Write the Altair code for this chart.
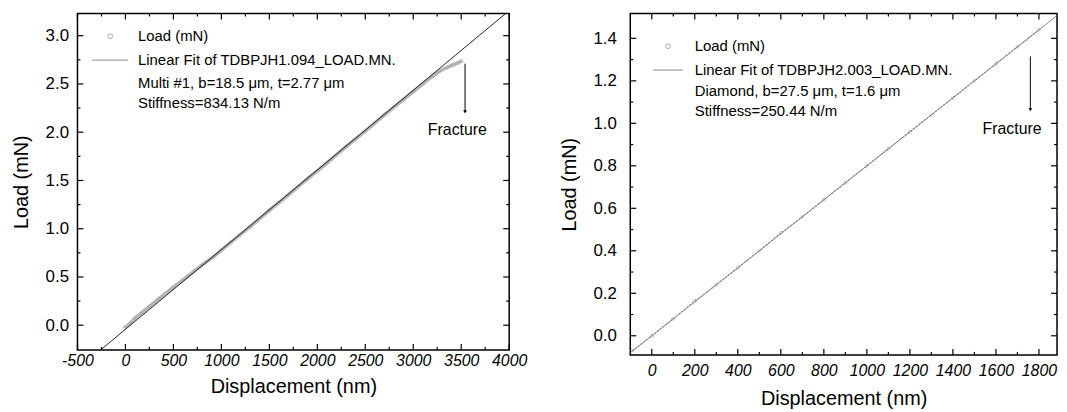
import altair as alt
import pandas as pd

# ---------------- data ----------------
# Left panel (Multi #1)
left_disp = [-10, 50, 100, 165, 250, 350, 500, 650, 800, 920, 1100, 1300, 1500, 1700,
             1900, 2100, 2300, 2500, 2700, 2900, 3000, 3100, 3200, 3270, 3350, 3420,
             3470, 3506]
left_load = [-0.03, 0.02, 0.075, 0.125, 0.195, 0.275, 0.395, 0.51, 0.625, 0.71, 0.86,
             1.02, 1.19, 1.35, 1.52, 1.68, 1.85, 2.01, 2.18, 2.34, 2.42, 2.50, 2.58,
             2.63, 2.67, 2.70, 2.72, 2.74]
left_fit_disp = [-300, 4000]
left_fit_load = [-0.290, 3.260]

# Right panel (Diamond)
right_disp = [-90, 0, 100, 200, 300, 400, 500, 600, 700, 800, 900, 1000, 1100, 1200,
              1300, 1400, 1500, 1600, 1700, 1800]
right_load = [-0.07, 0.00, 0.08, 0.165, 0.24, 0.32, 0.40, 0.485, 0.56, 0.64, 0.72,
              0.80, 0.88, 0.96, 1.04, 1.12, 1.20, 1.28, 1.36, 1.44]
right_fit_disp = [-120, 1900]
right_fit_load = [-0.096, 1.52]

# tick values
left_x_major = [-500, 0, 500, 1000, 1500, 2000, 2500, 3000, 3500, 4000]
left_x_minor = [-250, 250, 750, 1250, 1750, 2250, 2750, 3250, 3750]
left_y_major = [0.0, 0.5, 1.0, 1.5, 2.0, 2.5, 3.0]
left_y_minor = [0.25, 0.75, 1.25, 1.75, 2.25, 2.75]
right_x_major = [0, 200, 400, 600, 800, 1000, 1200, 1400, 1600, 1800]
right_x_minor = [100, 300, 500, 700, 900, 1100, 1300, 1500, 1700]
right_y_major = [0.0, 0.2, 0.4, 0.6, 0.8, 1.0, 1.2, 1.4]
right_y_minor = [0.1, 0.3, 0.5, 0.7, 0.9, 1.1, 1.3]

left_legend = ["Load (mN)", "Linear Fit of TDBPJH1.094_LOAD.MN.",
               "Multi #1, b=18.5 \u03bcm, t=2.77 \u03bcm", "Stiffness=834.13 N/m"]
right_legend = ["Load (mN)", "Linear Fit of TDBPJH2.003_LOAD.MN.",
                "Diamond, b=27.5 \u03bcm,  t=1.6 \u03bcm", "Stiffness=250.44 N/m"]

left_fracture = {"x": 3540, "y_top": 2.71, "y_bot": 2.21, "tx": 3460, "ty": 2.02}
right_fracture = {"x": 1760, "y_top": 1.315, "y_bot": 1.065, "tx": 1675, "ty": 0.975}

FONT = "Liberation Sans"
NARROW = "Liberation Sans Narrow, Liberation Sans"
HYPHEN_LABEL = "datum.value < 0 ? '-' + format(-datum.value, 'd') : format(datum.value, 'd')"


def one():
    return alt.Data(values=[{}])


def panel(disp, load, fit_d, fit_l, xdom, ydom, xmaj, xmin, ymaj, ymin, W, H,
          legend, leg_pos, frac, data_style, fit_style, xlab_pad, xtitle_pad,
          ylab_pad, ytitle_pad):
    xs = alt.Scale(domain=xdom, nice=False, zero=False)
    ys = alt.Scale(domain=ydom, nice=False, zero=False)
    xaxis = alt.Axis(values=xmaj, labelExpr=HYPHEN_LABEL, labelFont=NARROW,
                     labelFontSize=16, labelFontStyle="italic", labelPadding=xlab_pad,
                     titlePadding=xtitle_pad, labelFlush=False, labelOverlap=False)
    yaxis = alt.Axis(values=ymaj, format=".1f", labelFont=NARROW, labelFontSize=17,
                     labelPadding=ylab_pad, titlePadding=ytitle_pad, labelFlush=False,
                     labelOverlap=False)

    def X(f):
        return alt.X(f, scale=xs, axis=xaxis, title="Displacement (nm)")

    def Y(f):
        return alt.Y(f, scale=ys, axis=yaxis, title="Load (mN)")

    df = pd.DataFrame({"d": disp, "l": load})
    fdf = pd.DataFrame({"d": fit_d, "l": fit_l})

    layers = []
    layers.append(alt.Chart(df).mark_line(clip=True, **data_style).encode(
        x=X("d:Q"), y=Y("l:Q")))
    layers.append(alt.Chart(df).mark_point(shape="circle", filled=False, size=10,
                                           color="#a8a8a8", strokeWidth=0.8, clip=True).encode(
        x=X("d:Q"), y=Y("l:Q")))
    layers.append(alt.Chart(fdf).mark_line(clip=True, **fit_style).encode(
        x=X("d:Q"), y=Y("l:Q")))

    # ticks (inward, on all four sides)
    for vals, ln in ((xmaj, 6), (xmin, 3)):
        tdf = pd.DataFrame({"v": vals})
        for y0, y1 in ((H, H - ln), (0, ln)):
            layers.append(alt.Chart(tdf).mark_rule(color="black", strokeWidth=1.2).encode(
                x=X("v:Q"), y=alt.value(y0), y2=alt.value(y1)))
    for vals, ln in ((ymaj, 6), (ymin, 3)):
        tdf = pd.DataFrame({"v": vals})
        for x0, x1 in ((0, ln), (W, W - ln)):
            layers.append(alt.Chart(tdf).mark_rule(color="black", strokeWidth=1.2).encode(
                y=Y("v:Q"), x=alt.value(x0), x2=alt.value(x1)))

    # legend
    (cx, cy), (lx0, lx1, ly), tx, tys = leg_pos
    layers.append(alt.Chart(one()).mark_point(shape="circle", filled=False, size=22,
                                              color="#777", strokeWidth=0.9).encode(
        x=alt.value(cx), y=alt.value(cy)))
    layers.append(alt.Chart(one()).mark_rule(color="#555", strokeWidth=0.7).encode(
        x=alt.value(lx0), x2=alt.value(lx1), y=alt.value(ly)))
    for txt, ty in zip(legend, tys):
        layers.append(alt.Chart(one()).mark_text(align="left", baseline="middle",
                                                 font=FONT, fontSize=15, color="black").encode(
            x=alt.value(tx), y=alt.value(ty), text=alt.value(txt)))

    # fracture arrow + label
    adf = pd.DataFrame({"x": [frac["x"]], "y1": [frac["y_top"]], "y2": [frac["y_bot"]]})
    layers.append(alt.Chart(adf).mark_rule(color="black", strokeWidth=1).encode(
        x=X("x:Q"), y=Y("y1:Q"), y2="y2:Q"))
    layers.append(alt.Chart(adf).mark_point(shape="triangle-down", filled=True, size=14,
                                            color="black", opacity=1).encode(
        x=X("x:Q"), y=Y("y2:Q")))
    tdf = pd.DataFrame({"x": [frac["tx"]], "y": [frac["ty"]]})
    layers.append(alt.Chart(tdf).mark_text(font=FONT, fontSize=16, color="black",
                                           baseline="middle").encode(
        x=X("x:Q"), y=Y("y:Q"), text=alt.value("Fracture")))

    return alt.layer(*layers).properties(width=W, height=H)


left = panel(left_disp, left_load, left_fit_disp, left_fit_load,
             [-500, 4000], [-0.256, 3.23], left_x_major, left_x_minor,
             left_y_major, left_y_minor, 435, 339, left_legend,
             ((33, 23), (15, 51, 47), 61, [23, 47, 70, 90]), left_fracture,
             dict(color="#b4b4b4", strokeWidth=3.5),
             dict(color="#222", strokeWidth=1),
             3, 8, 9, 14)

right = panel(right_disp, right_load, right_fit_disp, right_fit_load,
              [-100, 1884], [-0.09, 1.517], right_x_major, right_x_minor,
              right_y_major, right_y_minor, 430, 344, right_legend,
              ((38, 33), (23, 53, 57), 65, [33, 57, 78, 98]), right_fracture,
              dict(color="#999", strokeWidth=1.2, strokeDash=[1.5, 2]),
              dict(color="#666", strokeWidth=0.8),
              8, 10, 14, 14)

chart = alt.hconcat(left, right, spacing=122, bounds="flush").properties(
    padding={"left": 2, "top": 2, "right": 0, "bottom": 0}, background="white"
).configure_view(stroke="black", strokeWidth=1.5).configure_axis(
    domain=False, grid=False, ticks=False, tickSize=0, labelColor="black",
    titleColor="black", titleFont=FONT, titleFontSize=20, titleFontWeight="normal"
)

chart.save("out.html", embed_options={"renderer": "svg", "actions": False})
